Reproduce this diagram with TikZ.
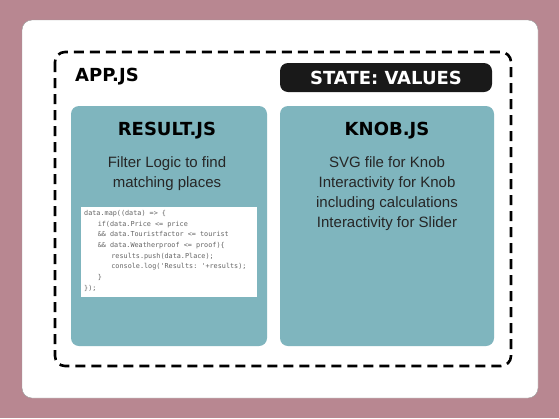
\documentclass[tikz,border=0pt]{standalone}
\usepackage{fontspec}
\setmainfont{Liberation Sans}
\newfontfamily\headfont{DejaVu Sans}
\setmonofont{DejaVu Sans Mono}
\usepackage{xcolor}
\usetikzlibrary{positioning,calc}

\definecolor{mauve}{RGB}{184,135,145}
\definecolor{teal}{RGB}{127,181,190}
\definecolor{codegray}{RGB}{100,100,100}

\begin{document}
\begin{tikzpicture}[
            x=1pt, y=-1pt,
            every node/.style={inner sep=0pt},
            panel/.style={fill=teal, rounded corners=8pt},
            head/.style={font=\headfont\bfseries\fontsize{18}{18}\selectfont},
            body/.style={font=\fontsize{15}{20}\selectfont, align=center, text=black!85},
            code/.style={font=\ttfamily\fontsize{6.8}{10.7}\selectfont, align=left, text=codegray},
        ]
            % canvas and frames
            \fill[mauve] (0,0) rectangle (559,418);
            \useasboundingbox (0,0) rectangle (559,418);
            \fill[white, draw=black!40, rounded corners=10pt] (22,20) rectangle (538,398);
            \draw[line width=2.6pt, dash pattern=on 10pt off 6pt, rounded corners=10pt] (55,52) rectangle (511,366);

            % header row
            \node[head, anchor=west] (app) at (75,77) {APP.JS};
            \fill[black!90, rounded corners=8pt] (280,63) rectangle (492,92);
            \node[head, text=white] (state) at (386,78) {STATE: VALUES};

            % panels
            \fill[panel] (71,106) rectangle (267,346);
            \fill[panel] (280,106) rectangle (494,346);
            \node[head] (result) at (167,131) {RESULT.JS};
            \node[head] (knob) at (387,131) {KNOB.JS};

            \node[body, below=17pt of result] (filter) {Filter Logic to find\\matching places};
            \node[body, below=17pt of knob] (knobtxt) {SVG file for Knob\\Interactivity for Knob\\including calculations\\Interactivity for Slider};

            % code snippet
            \fill[white] (81,207) rectangle (257,297);
            \node[code, anchor=north west] (snippet) at (84,210) {%
data.map((data) => \{\\
\hspace*{2em}if(data.Price <= price\\
\hspace*{2em}\&\& data.Touristfactor <= tourist\\
\hspace*{2em}\&\& data.Weatherproof <= proof)\{\\
\hspace*{4em}results.push(data.Place);\\
\hspace*{4em}console.log('Results: '+results);\\
\hspace*{2em}\}\\
\});};
        \end{tikzpicture}
\end{document}
